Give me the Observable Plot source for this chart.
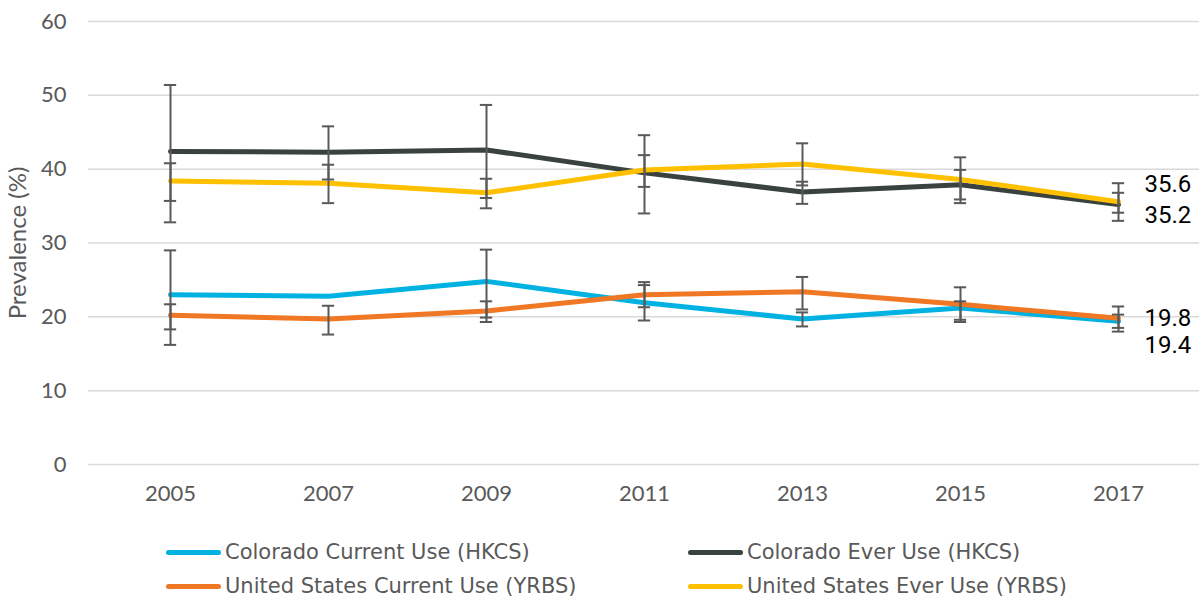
<!DOCTYPE html>
<html>
<head>
<meta charset="utf-8">
<script src="https://cdn.jsdelivr.net/npm/d3@7"></script>
<script src="https://cdn.jsdelivr.net/npm/@observablehq/plot@0.6"></script>
<style>
  html, body { margin: 0; padding: 0; background: #fff; }
  #wrap { position: relative; width: 1199px; height: 597px; overflow: hidden; }
  #chart svg { display: block; }
  .legend { position: absolute; font-family: "DejaVu Sans", sans-serif; font-size: 21px; color: #595959; }
  .item { position: absolute; display: flex; align-items: center; white-space: nowrap; height: 26px; }
  .sw { display: inline-block; width: 55px; height: 5px; border-radius: 3px; margin-right: 4px; }
</style>
</head>
<body>
<div id="wrap">
  <div id="chart"></div>
  <div class="legend" id="legend"></div>
</div>
<script>
// ---- data ----
const years = [2005, 2007, 2009, 2011, 2013, 2015, 2017];
const yTicks = [0, 10, 20, 30, 40, 50, 60];
const seriesNames = [
  "Colorado Current Use (HKCS)",
  "Colorado Ever Use (HKCS)",
  "United States Current Use (YRBS)",
  "United States Ever Use (YRBS)"
];
const seriesColors = ["#00B2E2", "#3A4240", "#F07723", "#FFC000"];

const coCurrent   = [23.0, 22.8, 24.8, 21.9, 19.7, 21.2, 19.4];
const coCurrentLo = [16.2, null, 19.9, 19.5, 18.7, 19.3, 18.0];
const coCurrentHi = [29.0, null, 29.1, 24.3, 20.6, 22.1, 20.3];

const coEver   = [42.4, 42.3, 42.6, 39.5, 36.9, 37.9, 35.2];
const coEverLo = [32.8, 38.6, 36.1, 34.0, 35.3, 35.9, 33.0];
const coEverHi = [51.4, 45.8, 48.7, 44.6, 38.3, 39.9, 36.8];

const usCurrent   = [20.2, 19.7, 20.8, 23.0, 23.4, 21.7, 19.8];
const usCurrentLo = [18.3, 17.6, 19.3, 21.3, 21.0, 19.6, 18.5];
const usCurrentHi = [21.7, 21.5, 22.1, 24.7, 25.4, 24.0, 21.4];

const usEver   = [38.4, 38.1, 36.8, 39.9, 40.7, 38.6, 35.6];
const usEverLo = [35.7, 35.4, 34.7, 37.6, 37.8, 35.4, 34.1];
const usEverHi = [40.8, 40.6, 38.7, 41.9, 43.5, 41.6, 38.1];

const yLabel = "Prevalence (%)";

// ---- build tidy table ----
const seriesData = [
  [coCurrent, coCurrentLo, coCurrentHi],
  [coEver, coEverLo, coEverHi],
  [usCurrent, usCurrentLo, usCurrentHi],
  [usEver, usEverLo, usEverHi]
];
const rows = [];
seriesData.forEach(([v, lo, hi], s) => {
  years.forEach((yr, i) => {
    rows.push({series: seriesNames[s], year: String(yr), value: v[i], lo: lo[i], hi: hi[i]});
  });
});
const errRows = rows.filter(d => d.lo != null && d.hi != null);
const lastYear = String(years[years.length - 1]);
const endRows = rows.filter(d => d.year === lastYear);
const fmt = d3.format(".1f");

// ---- layout ----
const W = 1199, H = 520, ML = 88, MR = 0, MT = 21, MB = 56;
const capWidth = 13;
const capInset = ((W - ML - MR) / years.length - capWidth) / 2;

const labelFont = {fontFamily: "Roboto, sans-serif", fontSize: 24, fill: "#000", textAnchor: "start", dx: 26};

const chart = Plot.plot({
  width: W, height: H,
  marginLeft: ML, marginRight: MR, marginTop: MT, marginBottom: MB,
  style: {fontFamily: "Lato, sans-serif", fontSize: "22px", color: "#595959", background: "#fff", overflow: "visible"},
  x: {type: "band", domain: years.map(String), padding: 0, tickSize: 0, tickPadding: 21, label: null},
  y: {domain: [0, 60], ticks: yTicks, tickSize: 0, tickPadding: 22, label: yLabel, labelAnchor: "center", labelOffset: 80, labelArrow: "none"},
  color: {domain: seriesNames, range: seriesColors},
  marks: [
    Plot.ruleY(yTicks, {stroke: "#D9D9D9", strokeWidth: 1.5}),
    Plot.line(rows, {x: "year", y: "value", z: "series", stroke: "series", strokeWidth: 5, strokeLinecap: "round", strokeLinejoin: "round"}),
    Plot.ruleX(errRows, {x: "year", y1: "lo", y2: "hi", stroke: "#595959", strokeWidth: 2}),
    Plot.tickY(errRows, {x: "year", y: "lo", stroke: "#595959", strokeWidth: 2, insetLeft: capInset, insetRight: capInset}),
    Plot.tickY(errRows, {x: "year", y: "hi", stroke: "#595959", strokeWidth: 2, insetLeft: capInset, insetRight: capInset}),
    Plot.text(endRows.filter(d => d.series === seriesNames[3]), {x: "year", y: "value", text: d => fmt(d.value), ...labelFont, dy: -17}),
    Plot.text(endRows.filter(d => d.series === seriesNames[1]), {x: "year", y: "value", text: d => fmt(d.value), ...labelFont, dy: 11}),
    Plot.text(endRows.filter(d => d.series === seriesNames[2]), {x: "year", y: "value", text: d => fmt(d.value), ...labelFont, dy: 0}),
    Plot.text(endRows.filter(d => d.series === seriesNames[0]), {x: "year", y: "value", text: d => fmt(d.value), ...labelFont, dy: 24})
  ]
});
// enlarge the y-axis title
chart.querySelectorAll("text").forEach(t => {
  if (t.textContent.trim() === yLabel) {
    t.style.fontSize = "24px";
  }
});
document.getElementById("chart").appendChild(chart);

// ---- legend (HTML) ----
const legendPos = [
  {left: 166, top: 539}, {left: 688, top: 539},
  {left: 166, top: 573}, {left: 688, top: 573}
];
const legend = document.getElementById("legend");
legend.style.left = "0px"; legend.style.top = "0px";
seriesNames.forEach((name, i) => {
  const item = document.createElement("div");
  item.className = "item";
  item.style.left = legendPos[i].left + "px";
  item.style.top = legendPos[i].top + "px";
  const sw = document.createElement("span");
  sw.className = "sw";
  sw.style.background = seriesColors[i];
  const tx = document.createElement("span");
  tx.textContent = name;
  item.appendChild(sw); item.appendChild(tx);
  legend.appendChild(item);
});
</script>
</body>
</html>
